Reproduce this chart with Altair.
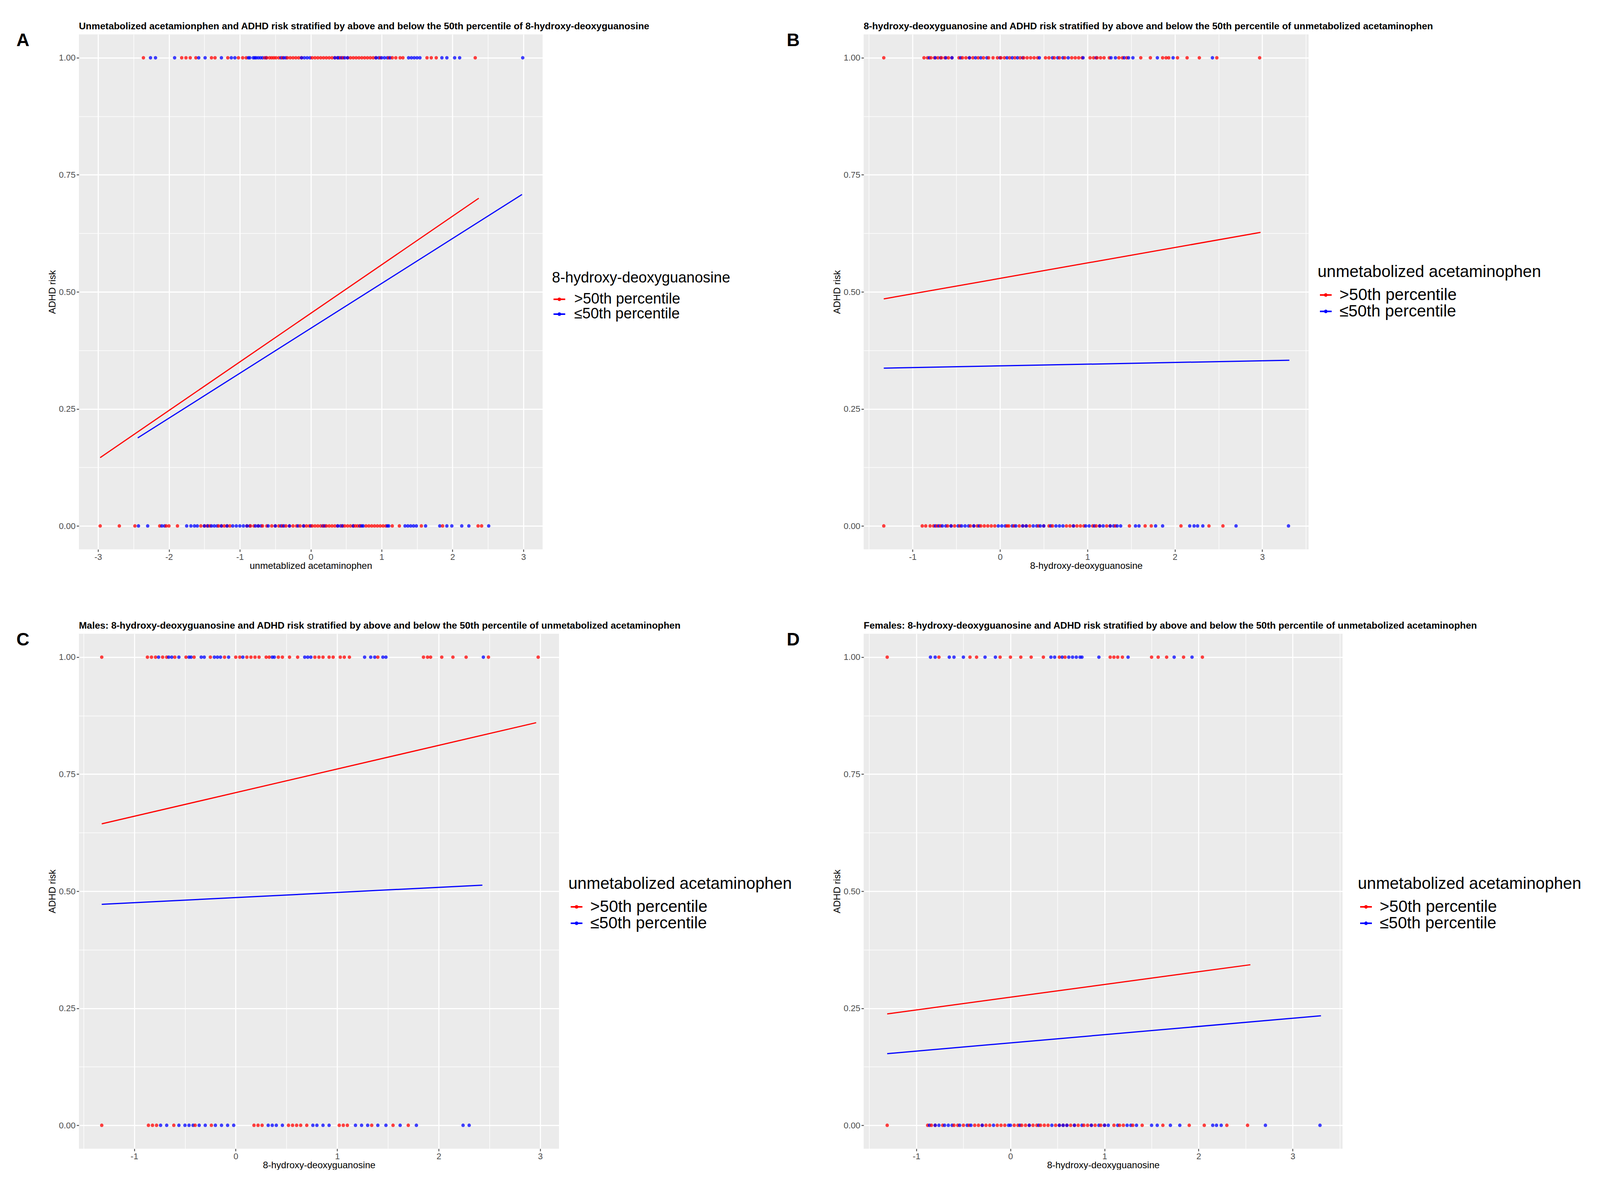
import altair as alt
import pandas as pd

GROUPS = [">50th percentile", "≤50th percentile"]
COLORS = ["#FF0000", "#0000FF"]
FONT = "Liberation Sans, Arial, Helvetica, sans-serif"

Y_MAJOR = [0, 0.25, 0.5, 0.75, 1]
Y_MINOR = [0.125, 0.375, 0.625, 0.875]

# ---------------- Panel A ----------------
a_hi_y1 = [-2.36, -1.82, -1.76, -1.70, -1.62, -1.40, -1.35, -1.17, -1.02, -0.96, -0.91, -0.65, -0.62, -0.58,
           -0.55, -0.52, -0.49, -0.45, -0.40, -0.33, -0.29, -0.25, -0.21, -0.17, -0.13, 0.02, 0.06, 0.10, 0.14,
           0.18, 0.22, 0.26, 0.30, 0.34, 0.38, 0.42, 0.46, 0.52, 0.56, 0.60, 0.64, 0.68, 0.72, 0.76, 0.80,
           0.84, 0.88, 0.92, 0.98, 1.10, 1.15, 1.20, 1.26, 1.30, 1.64, 1.70, 1.77, 2.32]
a_lo_y1 = [-2.26, -2.19, -1.92, -1.58, -1.49, -1.26, -1.12, -1.07, -0.88, -0.86, -0.81, -0.79, -0.77, -0.74,
           -0.71, -0.68, -0.63, -0.42, -0.38, -0.35, -0.13, -0.09, -0.05, -0.01, 0.34, 0.38, 0.40, 0.44, 0.48,
           0.52, 0.92, 0.96, 1.00, 1.04, 1.08, 1.12, 1.38, 1.42, 1.46, 1.50, 1.54, 1.85, 1.92, 2.03, 2.10, 2.99]
a_hi_y0 = [-2.97, -2.70, -2.48, -2.13, -2.04, -2.00, -1.88, -1.55, -1.50, -1.46, -1.42, -1.30, -1.26, -1.22,
           -1.18, -1.14, -0.90, -0.85, -0.80, -0.74, -0.68, -0.62, -0.55, -0.50, -0.45, -0.40, -0.35, -0.30,
           -0.25, -0.20, -0.15, -0.10, -0.06, -0.02, 0.02, 0.06, 0.10, 0.14, 0.18, 0.22, 0.26, 0.30, 0.34,
           0.38, 0.44, 0.48, 0.52, 0.56, 0.60, 0.63, 0.66, 0.70, 0.78, 0.82, 0.86, 0.90, 0.94, 0.98, 1.02,
           1.06, 1.15, 1.25, 1.56, 1.86, 2.36, 2.41]
a_lo_y0 = [-2.43, -2.30, -2.10, -2.06, -1.75, -1.69, -1.64, -1.60, -1.50, -1.45, -1.40, -1.36, -1.32, -1.26,
           -1.18, -1.10, -1.05, -1.00, -0.95, -0.90, -0.86, -0.78, -0.74, -0.70, -0.60, -0.50, -0.42, -0.38,
           -0.30, -0.18, -0.10, 0.00, 0.17, 0.20, 0.38, 0.42, 0.45, 0.60, 0.69, 0.72, 0.74, 1.08, 1.10, 1.33,
           1.37, 1.41, 1.45, 1.49, 1.62, 1.82, 1.92, 1.99, 2.13, 2.23, 2.51]
a_fit_hi_x = [-2.97, 2.37]
a_fit_hi_y = [0.146, 0.700]
a_fit_lo_x = [-2.44, 2.98]
a_fit_lo_y = [0.188, 0.708]

# ---------------- Panel B ----------------
b_hi_y1 = [-1.33, -0.87, -0.83, -0.79, -0.75, -0.71, -0.67, -0.63, -0.59, -0.55, -0.47, -0.43, -0.39, -0.35,
           -0.31, -0.25, -0.19, -0.13, -0.08, -0.03, 0.01, 0.05, 0.11, 0.17, 0.23, 0.27, 0.31, 0.35, 0.39,
           0.43, 0.52, 0.56, 0.62, 0.68, 0.74, 0.82, 0.86, 0.90, 0.94, 1.03, 1.07, 1.11, 1.15, 1.19, 1.25,
           1.36, 1.40, 1.45, 1.61, 1.72, 1.86, 1.90, 1.93, 2.03, 2.14, 2.28, 2.48, 2.97]
b_lo_y1 = [-0.81, -0.74, -0.68, -0.62, -0.55, -0.45, -0.35, -0.28, -0.22, -0.15, 0.00, 0.08, 0.14, 0.20,
           0.26, 0.45, 0.60, 0.66, 0.72, 0.78, 0.95, 1.10, 1.27, 1.32, 1.42, 1.47, 1.52, 1.80, 1.98, 2.43]
b_hi_y0 = [-1.33, -0.89, -0.85, -0.80, -0.76, -0.72, -0.68, -0.60, -0.56, -0.52, -0.46, -0.34, -0.30, -0.26,
           -0.22, -0.18, -0.14, -0.10, -0.06, 0.08, 0.10, 0.16, 0.22, 0.26, 0.30, 0.34, 0.44, 0.50, 0.56, 0.60,
           0.76, 0.80, 0.84, 0.88, 0.92, 0.96, 1.06, 1.10, 1.14, 1.22, 1.26, 1.32, 1.48, 1.66, 1.73, 2.07,
           2.39, 2.55]
b_lo_y0 = [-0.74, -0.70, -0.66, -0.62, -0.56, -0.48, -0.44, -0.40, -0.36, -0.30, -0.24, -0.02, 0.02, 0.06,
           0.14, 0.18, 0.26, 0.30, 0.38, 0.42, 0.46, 0.50, 0.58, 0.64, 0.68, 0.72, 0.84, 0.98, 1.02, 1.08,
           1.14, 1.18, 1.26, 1.30, 1.34, 1.38, 1.55, 1.59, 1.78, 1.86, 2.17, 2.22, 2.26, 2.32, 2.70, 3.30]
b_fit_hi_x = [-1.33, 2.98]
b_fit_hi_y = [0.485, 0.627]
b_fit_lo_x = [-1.33, 3.31]
b_fit_lo_y = [0.337, 0.354]

# ---------------- Panel C (Males) ----------------
c_hi_y1 = [-1.32, -0.87, -0.83, -0.79, -0.72, -0.68, -0.60, -0.49, -0.41, -0.25, -0.11, 0.00, 0.04, 0.11,
           0.15, 0.19, 0.23, 0.30, 0.33, 0.42, 0.46, 0.53, 0.61, 0.78, 0.82, 0.86, 0.92, 0.96, 1.03, 1.07,
           1.12, 1.40, 1.85, 1.89, 1.92, 2.03, 2.14, 2.27, 2.49, 2.98]
c_lo_y1 = [-0.76, -0.66, -0.63, -0.56, -0.46, -0.44, -0.34, -0.31, -0.21, -0.18, -0.15, -0.07, 0.07, 0.36,
           0.38, 0.68, 0.71, 0.74, 1.27, 1.33, 1.37, 1.45, 1.48, 2.44]
c_hi_y0 = [-1.32, -0.86, -0.82, -0.78, -0.61, -0.40, -0.24, 0.18, 0.22, 0.26, 0.52, 0.56, 0.60, 0.64, 0.70,
           1.02, 1.06, 1.10, 1.34, 1.55, 1.70]
c_lo_y0 = [-0.74, -0.68, -0.56, -0.50, -0.46, -0.42, -0.36, -0.30, -0.20, -0.14, -0.08, -0.02, 0.32, 0.36,
           0.40, 0.46, 0.76, 0.80, 0.86, 0.92, 1.18, 1.24, 1.30, 1.40, 1.48, 1.62, 1.78, 2.24, 2.30]
c_fit_hi_x = [-1.32, 2.96]
c_fit_hi_y = [0.644, 0.860]
c_fit_lo_x = [-1.32, 2.43]
c_fit_lo_y = [0.472, 0.513]

# ---------------- Panel D (Females) ----------------
d_hi_y1 = [-1.31, -0.76, -0.43, -0.36, -0.11, 0.00, 0.11, 0.22, 0.35, 0.52, 0.58, 1.06, 1.10, 1.14, 1.19,
           1.50, 1.57, 1.66, 1.84, 2.04]
d_lo_y1 = [-0.85, -0.80, -0.65, -0.60, -0.50, -0.27, -0.16, 0.43, 0.47, 0.55, 0.62, 0.66, 0.70, 0.74, 0.76,
           0.94, 1.25, 1.74, 1.93]
d_hi_y0 = [-1.31, -0.88, -0.84, -0.80, -0.72, -0.60, -0.56, -0.50, -0.44, -0.38, -0.34, -0.30, -0.26, -0.22,
           -0.14, -0.10, -0.06, 0.04, 0.08, 0.12, 0.16, 0.20, 0.24, 0.28, 0.32, 0.36, 0.40, 0.48, 0.52, 0.56,
           0.60, 0.64, 0.68, 0.72, 0.78, 0.82, 0.86, 0.90, 0.96, 1.00, 1.10, 1.16, 1.20, 1.30, 1.40, 1.62,
           1.90, 2.06, 2.30, 2.52]
d_lo_y0 = [-0.86, -0.80, -0.76, -0.70, -0.66, -0.62, -0.54, -0.46, -0.42, -0.30, -0.18, -0.02, 0.00, 0.10,
           0.20, 0.30, 0.44, 0.52, 0.56, 0.60, 0.68, 0.76, 0.86, 0.94, 1.00, 1.04, 1.14, 1.24, 1.28, 1.34,
           1.50, 1.56, 1.70, 1.80, 2.15, 2.19, 2.24, 2.71, 3.29]
d_fit_hi_x = [-1.31, 2.55]
d_fit_hi_y = [0.238, 0.343]
d_fit_lo_x = [-1.31, 3.30]
d_fit_lo_y = [0.153, 0.234]

TITLE_A = "Unmetabolized acetamionphen and ADHD risk stratified by above and below the 50th percentile of 8-hydroxy-deoxyguanosine"
TITLE_B = "8-hydroxy-deoxyguanosine and ADHD risk stratified by above and below the 50th percentile of unmetabolized acetaminophen"
TITLE_C = "Males: 8-hydroxy-deoxyguanosine and ADHD risk stratified by above and below the 50th percentile of unmetabolized acetaminophen"
TITLE_D = "Females: 8-hydroxy-deoxyguanosine and ADHD risk stratified by above and below the 50th percentile of unmetabolized acetaminophen"

LEGEND_SYMBOL = "M-1,-0.13L1,-0.13L1,0.13L-1,0.13Z M0.3,0 A0.3,0.3 0 1,1 -0.3,0 A0.3,0.3 0 1,1 0.3,0Z"

PANEL_H = 1318


def points_df(hi1, lo1, hi0, lo0):
    rows = []
    for xs, y, g in [(hi1, 1, GROUPS[0]), (lo1, 1, GROUPS[1]), (hi0, 0, GROUPS[0]), (lo0, 0, GROUPS[1])]:
        for v in xs:
            rows.append({"x": v, "y": y, "group": g})
    return pd.DataFrame(rows).sort_values("x", kind="stable")


def lines_df(hx, hy, lx, ly):
    rows = []
    for xs, ys, g in [(hx, hy, GROUPS[0]), (lx, ly, GROUPS[1])]:
        for a, b in zip(xs, ys):
            rows.append({"x": a, "y": b, "group": g})
    return pd.DataFrame(rows)


def panel(pts, fits, xdom, xmaj, xmin, width, title, xtitle, ltitle, letter, letter_dx,
          legx, legy, lfont, lrowpad, loffset):
    xs = alt.Scale(domain=xdom, nice=False, zero=False)
    ys = alt.Scale(domain=[-0.05, 1.05], nice=False, zero=False)
    cscale = alt.Scale(domain=GROUPS, range=COLORS)
    major = dict(grid=True, gridColor="white", gridWidth=2.8, domain=False,
                 tickColor="#333333", tickSize=6, tickWidth=2,
                 labelFont=FONT, labelFontSize=22, labelColor="#4D4D4D",
                 titleFont=FONT, titleFontSize=24, titleFontWeight="normal", titleColor="black")
    minor = dict(grid=True, gridColor="white", gridWidth=1.4, domain=False, ticks=False,
                 labels=False, title=None)
    pts_layer = alt.Chart(pts).mark_circle(size=80, opacity=0.75).encode(
        x=alt.X("x:Q", scale=xs, axis=alt.Axis(values=xmaj, title=xtitle, orient="bottom",
                                               labelExpr="'' + datum.value", labelPadding=3,
                                               titlePadding=0, **major)),
        y=alt.Y("y:Q", scale=ys, axis=alt.Axis(values=Y_MAJOR, format=".2f", title="ADHD risk",
                                               orient="left", labelPadding=3, titlePadding=4, **major)),
        color=alt.Color("group:N", scale=cscale,
                        legend=alt.Legend(title=ltitle, orient="none", legendX=legx, legendY=legy,
                                          titleFont=FONT, titleFontSize=lfont, titleFontWeight="normal",
                                          titleColor="black", labelFont=FONT, labelFontSize=lfont,
                                          labelColor="black", symbolType=LEGEND_SYMBOL, symbolSize=900,
                                          symbolStrokeWidth=0, symbolOpacity=1, labelOffset=loffset,
                                          rowPadding=lrowpad, titlePadding=16, padding=0,
                                          labelLimit=0, titleLimit=0)),
    )
    fit_layer = alt.Chart(fits).mark_line(strokeWidth=3).encode(
        x=alt.X("x:Q", scale=xs, axis=alt.Axis(values=xmin, orient="top", **minor)),
        y=alt.Y("y:Q", scale=ys, axis=alt.Axis(values=Y_MINOR, orient="right", **minor)),
        color=alt.Color("group:N", scale=cscale, legend=None),
    )
    letter_layer = alt.Chart(pd.DataFrame({"t": [letter]})).mark_text(
        font=FONT, fontSize=46, fontWeight="bold", align="left", baseline="middle", color="black"
    ).encode(text="t:N", x=alt.value(letter_dx), y=alt.value(16))
    return alt.layer(pts_layer, fit_layer, letter_layer).resolve_axis(
        x="independent", y="independent"
    ).properties(
        width=width, height=PANEL_H,
        title=alt.TitleParams(text=title, anchor="start", frame="group", font=FONT, fontSize=24.4,
                              fontWeight="bold", color="black", offset=1),
    )


pA = panel(points_df(a_hi_y1, a_lo_y1, a_hi_y0, a_lo_y0),
           lines_df(a_fit_hi_x, a_fit_hi_y, a_fit_lo_x, a_fit_lo_y),
           [-3.27, 3.27], [-3, -2, -1, 0, 1, 2, 3], [-2.5, -1.5, -0.5, 0.5, 1.5, 2.5],
           1187, TITLE_A, "unmetablized acetaminophen", "8-hydroxy-deoxyguanosine", "A", -160,
           1211, 605, 38, -4, 19)
pB = panel(points_df(b_hi_y1, b_lo_y1, b_hi_y0, b_lo_y0),
           lines_df(b_fit_hi_x, b_fit_hi_y, b_fit_lo_x, b_fit_lo_y),
           [-1.56, 3.53], [-1, 0, 1, 2, 3], [-1.5, -0.5, 0.5, 1.5, 2.5, 3.5],
           1139, TITLE_B, "8-hydroxy-deoxyguanosine", "unmetabolized acetaminophen", "B", -197,
           1162, 588, 42, -3, 14)
pC = panel(points_df(c_hi_y1, c_lo_y1, c_hi_y0, c_lo_y0),
           lines_df(c_fit_hi_x, c_fit_hi_y, c_fit_lo_x, c_fit_lo_y),
           [-1.545, 3.185], [-1, 0, 1, 2, 3], [-1.5, -0.5, 0.5, 1.5, 2.5],
           1229, TITLE_C, "8-hydroxy-deoxyguanosine", "unmetabolized acetaminophen", "C", -160,
           1253, 620, 42, -3, 14)
pD = panel(points_df(d_hi_y1, d_lo_y1, d_hi_y0, d_lo_y0),
           lines_df(d_fit_hi_x, d_fit_hi_y, d_fit_lo_x, d_fit_lo_y),
           [-1.56, 3.53], [-1, 0, 1, 2, 3], [-1.5, -0.5, 0.5, 1.5, 2.5, 3.5],
           1226, TITLE_D, "8-hydroxy-deoxyguanosine", "unmetabolized acetaminophen", "D", -197,
           1265, 620, 42, -3, 14)

chart = alt.ConcatChart(
    concat=[pA, pB, pC, pD], columns=2, bounds="flush",
    spacing={"row": 216, "column": 780},
).resolve_scale(
    color="independent", x="independent", y="independent"
).properties(
    padding={"left": 34, "top": 46, "right": 0, "bottom": 0},
    background="white",
).configure_view(
    fill="#EBEBEB", stroke=None
)

chart.save("out.html", embed_options={"renderer": "svg", "actions": False})
